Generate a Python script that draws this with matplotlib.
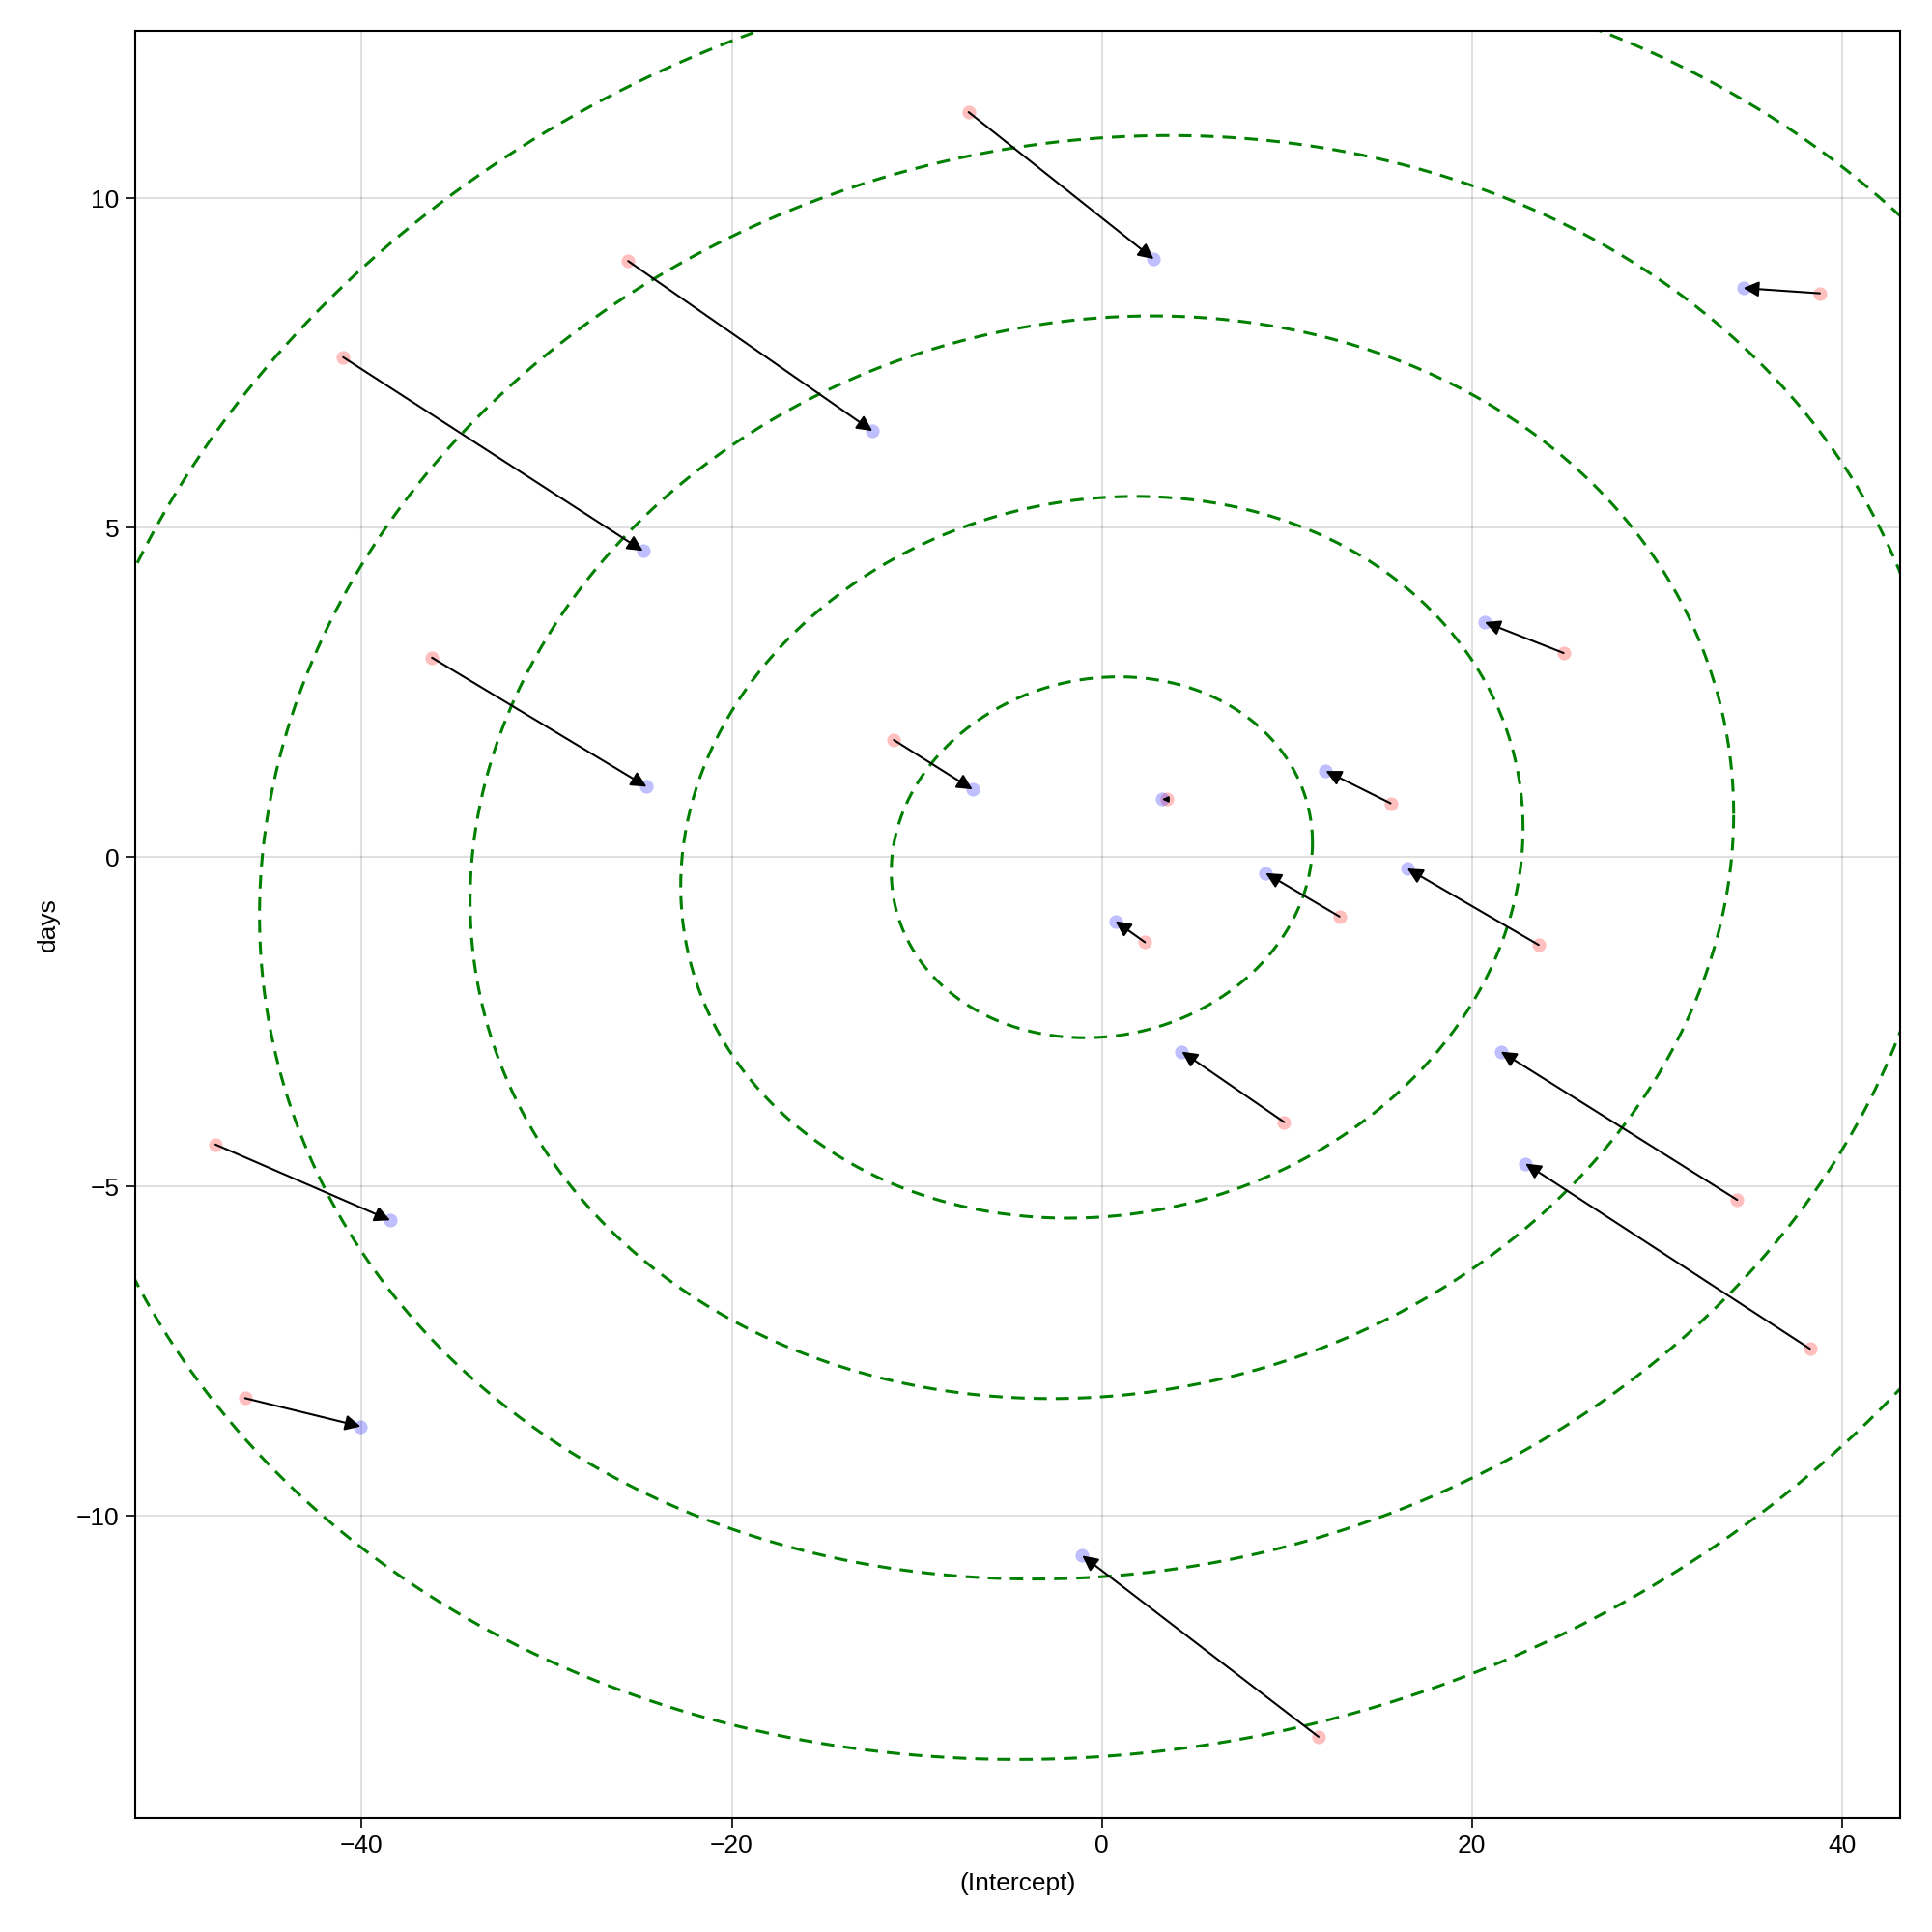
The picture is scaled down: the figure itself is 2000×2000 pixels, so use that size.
import numpy as np
from matplotlib import pyplot as plt

# conditional modes: red = unpenalized fit, blue = shrunken (mixed model)
red_x = [-7.2, -25.6, -41.0, -36.2, -11.24, 3.5, 2.33, 15.6, 12.84, 23.6,
         24.95, 38.8, 9.85, 34.33, 38.26, -47.9, -46.3, 11.71]
red_y = [11.31, 9.05, 7.59, 3.03, 1.78, 0.88, -1.29, 0.82, -0.90, -1.33,
         3.10, 8.56, -4.02, -5.20, -7.46, -4.36, -8.21, -13.35]
blue_x = [2.8, -12.4, -24.8, -24.6, -6.99, 3.26, 0.73, 12.1, 8.85, 16.5,
          20.69, 34.66, 4.32, 21.56, 22.89, -38.46, -40.05, -1.06]
blue_y = [9.08, 6.47, 4.65, 1.07, 1.03, 0.88, -0.97, 1.31, -0.24, -0.17,
          3.57, 8.64, -2.95, -2.95, -4.65, -5.51, -8.64, -10.60]

# covariance factor for the ellipses (lower triangular) and the levels
lam = np.array([[11.38, 0.0],
                [0.22, 2.73]])
ellipse_levels = [1, 2, 3, 4, 5]

xticks = [-40, -20, 0, 20, 40]
yticks = [-10, -5, 0, 5, 10]

plt.rcParams['font.family'] = ['Liberation Sans', 'DejaVu Sans']
plt.rcParams['font.size'] = 19

fig = plt.figure(figsize=(20, 20), dpi=100)
ax = fig.add_axes([0.07, 0.059, 0.9135, 0.925])

ax.scatter(red_x, red_y, s=105, color=(1, 0, 0, 0.25), linewidths=0, zorder=3)
ax.scatter(blue_x, blue_y, s=105, color=(0, 0, 1, 0.25), linewidths=0, zorder=3)

ax.margins(0.05)
ax.autoscale(False)

# arrows: shrink the head when the arrow is shorter than the head
head_px = 14.0
for x0, y0, x1, y1 in zip(red_x, red_y, blue_x, blue_y):
    p0 = ax.transData.transform((x0, y0))
    p1 = ax.transData.transform((x1, y1))
    length = np.hypot(*(p1 - p0))
    ms = 24 * min(1.0, length / head_px)
    ax.annotate('', xy=(x1, y1), xytext=(x0, y0),
                arrowprops=dict(arrowstyle='-|>', color='black', lw=1.5,
                                mutation_scale=ms, shrinkA=0, shrinkB=0),
                zorder=4)

t = np.linspace(0, 2 * np.pi, 400)
circ = np.vstack([np.cos(t), np.sin(t)])
ell = lam @ circ
for k in ellipse_levels:
    ax.plot(k * ell[0], k * ell[1], color='green', lw=2.2, ls=(0, (4.5, 3)),
            zorder=2)

ax.set_xticks(xticks)
ax.set_yticks(yticks)
ax.grid(True, color='black', alpha=0.12, lw=1.5)
ax.set_axisbelow(True)
ax.tick_params(direction='out', length=7, width=1.2, pad=5, labelsize=19)
for sp in ax.spines.values():
    sp.set_linewidth(1.5)

ax.set_xlabel('(Intercept)', fontsize=19, labelpad=11)
ax.set_ylabel('days', fontsize=19, labelpad=12)

fig.savefig('out.png', dpi=100)
